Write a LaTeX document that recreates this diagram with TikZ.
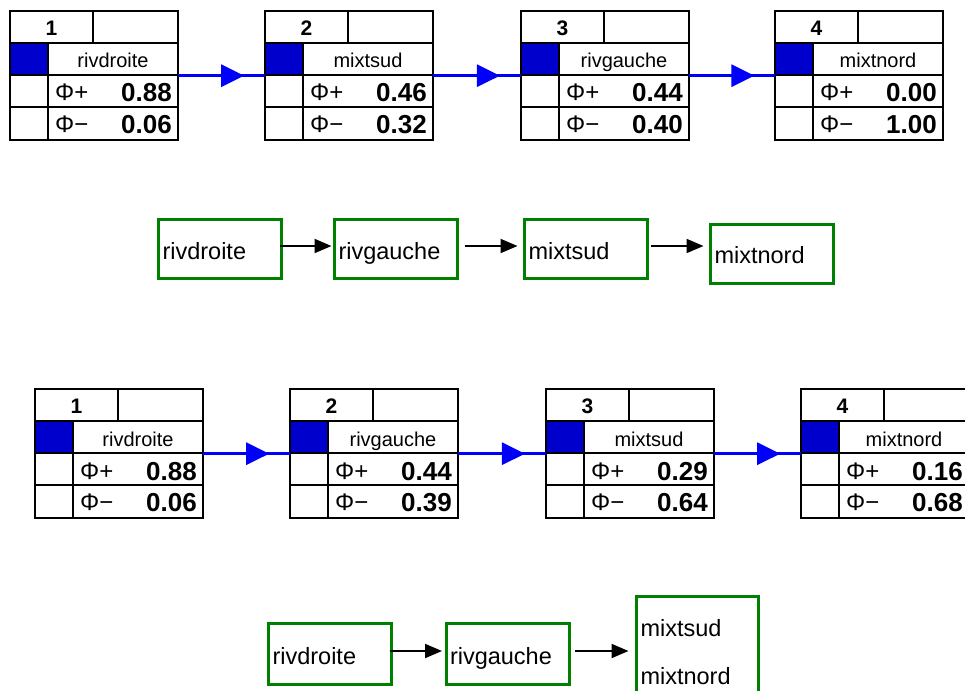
\documentclass[tikz,border=0pt]{standalone}
\usepackage{fontspec}
\setmainfont{Liberation Sans}
\usetikzlibrary{arrows.meta,decorations.markings}
\definecolor{cellblue}{RGB}{0,0,204}
\definecolor{linkblue}{RGB}{0,0,250}
\definecolor{boxgreen}{RGB}{0,128,0}
\tikzset{
  tblframe/.style={minimum width=168pt, minimum height=129pt, inner sep=0pt, anchor=north west},
  gridline/.style={black, line width=1.6pt},
  numtxt/.style={inner sep=0pt, font=\bfseries\fontsize{21}{24}\selectfont},
  labtxt/.style={inner sep=0pt, anchor=base, font=\fontsize{20}{24}\selectfont},
  phitxt/.style={inner sep=0pt, anchor=base west, font=\fontsize{24}{26}\selectfont},
  valtxt/.style={inner sep=0pt, anchor=base east, font=\bfseries\fontsize{26}{28}\selectfont},
  blink/.style={linkblue, line width=3pt, postaction={decorate},
    decoration={markings, mark=at position 0.76 with {\arrow{Triangle[length=23pt,width=22pt]}}}},
  gbox/.style={draw=boxgreen, line width=3pt, minimum width=123pt, minimum height=59pt,
    inner xsep=4pt, text width=115pt, align=left, text height=20pt, text depth=0pt,
    font=\fontsize{23.5}{28}\selectfont},
  karr/.style={black, line width=2pt, -{Triangle[length=17pt,width=14pt]}}
}
\newcommand\ptable[7]{%
  \begin{scope}[shift={(#2,#3)}]
    \node[tblframe] (#1) at (0,0) {};
    \fill[cellblue] (0,32) rectangle (38,64);
    \draw[gridline] (0,32) -- (168,32) (0,64) -- (168,64) (0,96) -- (168,96)
                    (83,0) -- (83,32) (38,32) -- (38,129);
    \draw[gridline] (0,0) rectangle (168,129);
    \node[numtxt] (#1n) at (41.5,17.5) {#4};
    \node[labtxt] (#1l) at (103,57) {#5};
    \node[phitxt] (#1p) at (45,90) {Φ+};
    \node[valtxt] (#1pv) at (162,91) {#6};
    \node[phitxt] (#1m) at (45,121) {Φ−};
    \node[valtxt] (#1mv) at (162,122) {#7};
  \end{scope}}
\begin{document}
\begin{tikzpicture}[x=1pt,y=-1pt]
\clip (0,0) rectangle (965,690);
\fill[white] (0,0) rectangle (965,690);
% top row of tables
\ptable{ta}{10}{11}{1}{rivdroite}{0.88}{0.06}
\ptable{tb}{265}{11}{2}{mixtsud}{0.46}{0.32}
\ptable{tc}{521}{11}{3}{rivgauche}{0.44}{0.40}
\ptable{td}{775}{11}{4}{mixtnord}{0.00}{1.00}
\draw[blink] (ta.east) -- (tb.west);
\draw[blink] (tb.east) -- (tc.west);
\draw[blink] (tc.east) -- (td.west);
% middle row of boxes
\node[gbox] (ba) at (220,249) {rivdroite};
\node[gbox] (bb) at (396,249) {rivgauche};
\node[gbox] (bc) at (586,249) {mixtsud};
\node[gbox] (bd) at (772,253.5) {mixtnord};
\draw[karr, shorten <=-3.5pt, shorten >=1.5pt] ([yshift=3pt]ba.east) -- ([yshift=3pt]bb.west);
\draw[karr, shorten <=5.5pt, shorten >=5.5pt] ([yshift=3pt]bb.east) -- ([yshift=3pt]bc.west);
\draw[karr, shorten <=1.5pt, shorten >=5.5pt] ([yshift=3pt]bc.east) -- ([yshift=7.5pt]bd.west);
% bottom row of tables
\ptable{te}{35}{389}{1}{rivdroite}{0.88}{0.06}
\ptable{tf}{290}{389}{2}{rivgauche}{0.44}{0.39}
\ptable{tg}{546}{389}{3}{mixtsud}{0.29}{0.64}
\ptable{th}{801}{389}{4}{mixtnord}{0.16}{0.68}
\draw[blink] (te.east) -- (tf.west);
\draw[blink] (tf.east) -- (tg.west);
\draw[blink] (tg.east) -- (th.west);
% bottom row of boxes
\node[gbox, minimum height=61pt] (ca) at (330,654) {rivdroite};
\node[gbox, minimum height=61pt] (cb) at (507.5,654) {rivgauche};
\node[draw=boxgreen, line width=3pt, minimum width=122pt, minimum height=112pt,
      inner xsep=4pt, text width=114pt, align=left,
      font=\fontsize{23.5}{48}\selectfont] (cc) at (697.5,652.5) {mixtsud\\mixtnord};
\draw[karr, shorten <=-3.5pt, shorten >=2.5pt] ([yshift=3pt]ca.east) -- ([yshift=3pt]cb.west);
\draw[karr, shorten <=4.5pt, shorten >=6.5pt] ([yshift=3pt]cb.east) -- ([yshift=1.5pt]cc.west);
\end{tikzpicture}
\end{document}
